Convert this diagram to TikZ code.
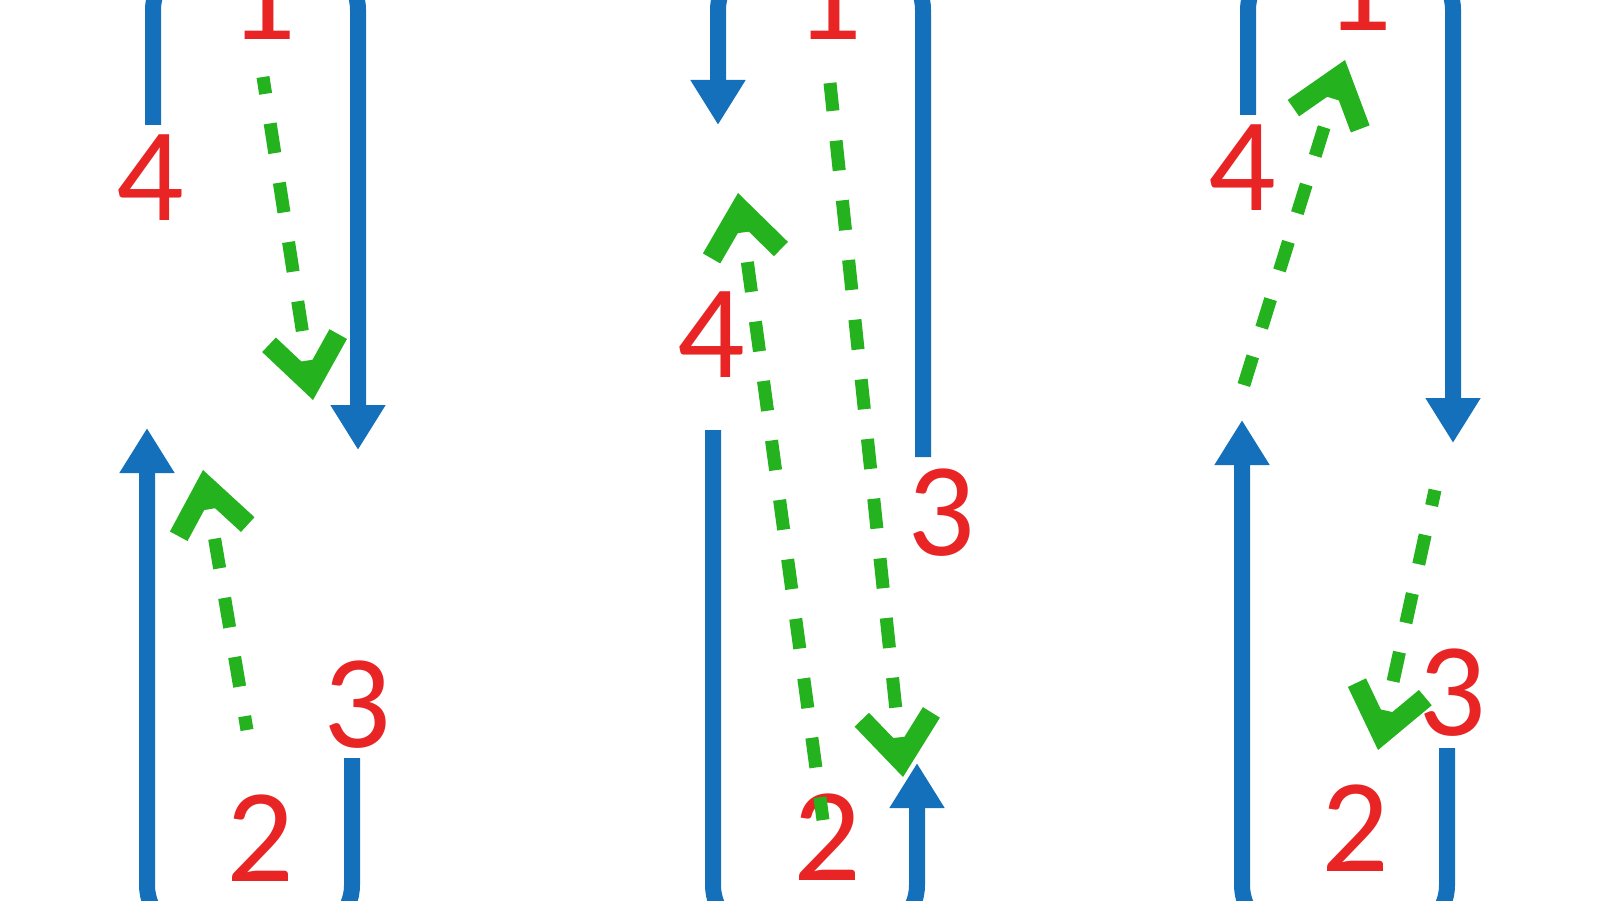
\documentclass[tikz,border=0pt]{standalone}
\usepackage{fontspec}
\setmainfont{Carlito}
\usepackage{tikz}
\usetikzlibrary{arrows.meta}
\definecolor{loopblue}{RGB}{20, 112, 186}
\definecolor{numred}{RGB}{232, 36, 36}
\definecolor{jumpgreen}{RGB}{36, 178, 30}

\begin{document}
\begin{tikzpicture}[
  track/.style={draw=loopblue, line width=1.6mm, rounded corners=5mm},
  blueend/.style={-{Triangle[length=4.5mm, width=5.2mm]}},
  jump/.style={draw=jumpgreen, line width=1.3mm, dash pattern=on 3mm off 3mm, -{Straight Barb[length=4.5mm, width=7mm, line width=2mm, sharp]}},
  num/.style={text=numred, font=\fontsize{38}{38}\selectfont, inner sep=0pt}
]
  \useasboundingbox (0,0) rectangle (16,9);
  \clip (0,0) rectangle (16,9);

  % Left loop
  \node[num] (a1) at (2.62, 9.03) {1};
  \node[num] (a2) at (2.60, 0.62) {2};
  \node[num] (a3) at (3.57, 1.95) {3};
  \node[num] (a4) at (1.50, 7.22) {4};
  \coordinate (a-nw) at (1.53, 7.75);
  \coordinate (a-ne) at (3.58, 4.50);
  \coordinate (a-se) at (3.52, 1.42);
  \coordinate (a-sw) at (1.47, 4.72);
  \draw[track, blueend] (a-nw) -- (1.53, 9.40) -- (3.58, 9.40) -- (a-ne);
  \draw[track, blueend] (a-se) -- (3.52, -0.35) -- (1.47, -0.35) -- (a-sw);
  \coordinate (a-g1) at (2.63, 8.23);
  \coordinate (a-g2) at (3.13, 5.00);
  \coordinate (a-g3) at (2.47, 1.70);
  \coordinate (a-g4) at (2.03, 4.30);
  \draw[jump, dash phase=1.3mm] (a-g1) -- (a-g2);
  \draw[jump, dash phase=1.6mm] (a-g3) -- (a-g4);

  % Middle loop
  \node[num] (b1) at (8.28, 9.03) {1};
  \node[num] (b2) at (8.27, 0.63) {2};
  \node[num] (b3) at (9.41, 3.87) {3};
  \node[num] (b4) at (7.11, 5.65) {4};
  \coordinate (b-ne) at (9.23, 4.43);
  \coordinate (b-nw) at (7.18, 7.75);
  \coordinate (b-sw) at (7.13, 4.70);
  \coordinate (b-se) at (9.17, 1.37);
  \draw[track, blueend] (b-ne) -- (9.23, 9.40) -- (7.18, 9.40) -- (b-nw);
  \draw[track, blueend] (b-sw) -- (7.13, -0.35) -- (9.17, -0.35) -- (b-se);
  \coordinate (b-g1) at (8.30, 8.17);
  \coordinate (b-g2) at (9.03, 1.23);
  \coordinate (b-g3) at (8.23, 0.80);
  \coordinate (b-g4) at (7.38, 7.07);
  \draw[jump, dash phase=0.2mm] (b-g1) -- (b-g2);
  \draw[jump, dash phase=0.7mm] (b-g3) -- (b-g4);

  % Right loop
  \node[num] (c1) at (13.58, 9.12) {1};
  \node[num] (c2) at (13.55, 0.72) {2};
  \node[num] (c3) at (14.52, 2.07) {3};
  \node[num] (c4) at (12.42, 7.32) {4};
  \coordinate (c-nw) at (12.48, 7.85);
  \coordinate (c-ne) at (14.53, 4.57);
  \coordinate (c-se) at (14.47, 1.52);
  \coordinate (c-sw) at (12.42, 4.80);
  \draw[track, blueend] (c-nw) -- (12.48, 9.40) -- (14.53, 9.40) -- (c-ne);
  \draw[track, blueend] (c-se) -- (14.47, -0.35) -- (12.42, -0.35) -- (c-sw);
  \coordinate (c-g1) at (12.37, 4.93);
  \coordinate (c-g2) at (13.45, 8.40);
  \coordinate (c-g3) at (14.35, 4.10);
  \coordinate (c-g4) at (13.78, 1.50);
  \draw[jump, dash phase=3.7mm] (c-g1) -- (c-g2);
  \draw[jump, dash phase=1.4mm] (c-g3) -- (c-g4);
\end{tikzpicture}
\end{document}
